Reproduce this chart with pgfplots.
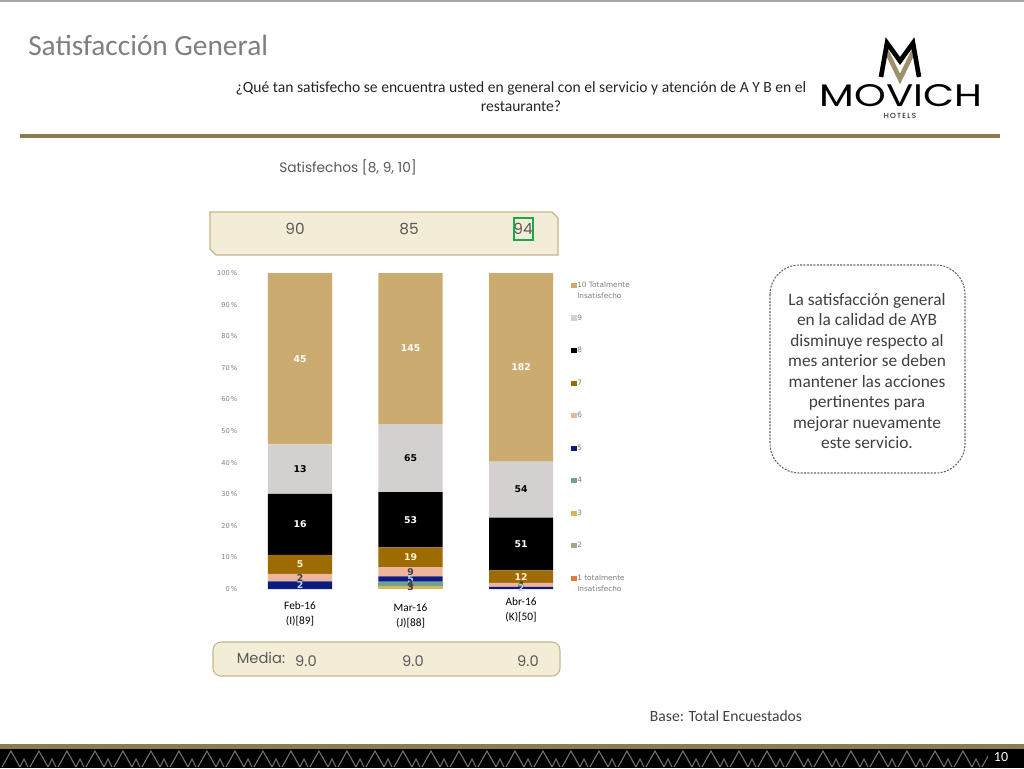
\documentclass[border=0pt]{standalone}
\usepackage{pgfplots}
\pgfplotsset{compat=1.18}
\usepackage{pgfplotstable}
\usepackage{fontspec}
\setmainfont{Carlito}
\newfontfamily\gothic{Poppins}
\newfontfamily\dejavu{DejaVu Sans}

\definecolor{c10}{HTML}{CBAB70}
\definecolor{c9}{HTML}{D5D0D0}
\definecolor{c8}{HTML}{000000}
\definecolor{c7}{HTML}{9E6B00}
\definecolor{c6}{HTML}{EDB59C}
\definecolor{c5}{HTML}{0D1A80}
\definecolor{c4}{HTML}{6FA391}
\definecolor{c3}{HTML}{D9B654}
\definecolor{c2}{HTML}{A7A68A}
\definecolor{c1}{HTML}{E27A3F}
\definecolor{cream}{HTML}{F3EDD8}
\definecolor{creamline}{HTML}{C2B68C}
\definecolor{goldline}{HTML}{8C7C51}
\definecolor{txtgray}{HTML}{7F7F7F}
\definecolor{darktxt}{HTML}{404040}
\definecolor{labcream}{HTML}{FFF5D6}
\definecolor{lablight}{HTML}{BDD7EE}
\definecolor{boxgreen}{HTML}{1AA84A}

% percentages (p) and counts (n) per rating, one row per month
\pgfplotstableread{
x p10 n10 p9 n9 p8 n8 p7 n7 p6 n6 p5 n5 p4 n4 p3 n3 p2 n2 p1 n1
0 54.22 45 15.66 13 19.28 16 6.02 5 2.41 2 2.41 2 0 0 0 0 0 0 0 0
1 47.85 145 21.45 65 17.49 53 6.27 19 2.97 9 1.65 5 1.32 4 0.99 3 0 0 0 0
2 59.67 182 17.70 54 16.72 51 3.93 12 1.31 4 0.66 2 0 0 0 0 0 0 0 0
}\satis

\begin{document}
\begin{tikzpicture}
\begin{scope}[x=0.75pt,y=-0.75pt]
\useasboundingbox (0,0) rectangle (1024,768);
\fill[white] (0,0) rectangle (1024,768);
\draw[gray!70, line width=1pt] (0,1) -- (1024,1);

% header
\node[anchor=base west, text=txtgray, font=\fontsize{22}{26}\selectfont, inner sep=0] at (28,55) {Satisfacción General};
\node[align=center, text=black!85, font=\fontsize{11.7}{14.25}\selectfont] at (521,97)
  {¿Qué tan satisfecho se encuentra usted en general con el servicio y atención de A Y B en el\\restaurante?};

% logo
\draw[goldline!85, line width=3.5pt, line join=miter] (886,50) -- (900,79) -- (914,50);
\draw[black, line width=3.5pt, line join=miter] (881,77) -- (887,43) -- (900,61) -- (913,43) -- (919,77);
\node[inner sep=0] at (901,96) {\resizebox{122pt}{16.5pt}{\gothic MOVICH}};
\node[inner sep=0, font=\gothic\fontsize{5.5}{6}\selectfont] at (900,116) {H\,O\,T\,E\,L\,S};

\draw[goldline, line width=3pt] (20,136) -- (1000,136);

% summary boxes
\node[text=black!65, font=\gothic\fontsize{10.3}{12}\selectfont] at (348,167) {Satisfechos [8, 9, 10]};
\filldraw[fill=cream, draw=creamline, line width=0.8pt]
  (210,212) -- (552,212) -- (558,218) -- (558,255) -- (216,255) -- (210,249) -- cycle;
\foreach \v/\px in {90/295, 85/409, 94/523}
  \node[text=black!65, font=\gothic\fontsize{11.5}{13}\selectfont] at (\px,229) {\v};
\draw[boxgreen, line width=1.5pt] (514,218) rectangle (533,240);

\filldraw[fill=cream, draw=creamline, line width=0.8pt, rounded corners=6] (213,642) rectangle (560,676);
\node[text=black!65, font=\gothic\fontsize{11}{13}\selectfont] at (261,658) {Media:};
\foreach \px in {306, 413, 528}
  \node[text=black!65, font=\gothic\fontsize{11}{13}\selectfont] at (\px,661) {9.0};

% comment box
\draw[black!60, dash pattern=on 1.5pt off 1pt, line width=0.8pt, rounded corners=22] (770,265) rectangle (965,473);
\node[align=center, text=darktxt, font=\fontsize{13}{15.4}\selectfont] at (867,371)
  {La satisfacción general\\en la calidad de AYB\\disminuye respecto al\\mes anterior se deben\\mantener las acciones\\pertinentes para\\mejorar nuevamente\\este servicio.};

\node[text=darktxt, font=\fontsize{11.7}{13}\selectfont] at (726,716) {Base: Total Encuestados};

% footer band
\fill[goldline] (0,744) rectangle (1024,749);
\fill[black] (0,749) rectangle (1024,768);
\foreach \i in {0,...,36} {
  \draw[black!55, line width=0.8pt] ({\i*28+2},767) -- ({\i*28+11},751) -- ({\i*28+20},767);
  \draw[black!55, line width=0.8pt] ({\i*28+20},767) -- ({\i*28+24},759) -- ({\i*28+28},767);
}
\fill[black] (988,750) rectangle (1024,768);
\node[text=white, font=\fontsize{10.5}{12}\selectfont] at (1001,757) {10};
\end{scope}

\begin{axis}[
  at={(181.5pt,-441.75pt)}, anchor=south west,
  scale only axis, width=238.3pt, height=237pt,
  ybar stacked, bar width=0.58,
  xmin=-0.525, xmax=2.35, ymin=0, ymax=100,
  axis line style={draw=none}, major tick length=0pt,
  ytick={0,10,...,100},
  /pgf/number format/assume math mode=true,
  yticklabel={\pgfmathprintnumber{\tick}\,\%},
  yticklabel style={font=\dejavu\fontsize{5}{6}\selectfont, text=txtgray},
  xtick={0,1,2},
  xticklabels={
    {\begin{tabular}[t]{@{}c@{}}Feb-16\\(I)[89]\end{tabular}},
    {\raisebox{-1.5pt}{\begin{tabular}[t]{@{}c@{}}Mar-16\\(J)[88]\end{tabular}}},
    {\raisebox{3pt}{\begin{tabular}[t]{@{}c@{}}Abr-16\\(K)[50]\end{tabular}}}},
  xticklabel style={anchor=base, yshift=-15.4pt, font=\fontsize{8.5}{11}\selectfont},
  point meta=explicit symbolic,
  nodes near coords,
  % stacked bars already put the label in the middle of each segment
  every node near coord/.append style={anchor=center, font=\dejavu\bfseries\fontsize{7}{8}\selectfont},
  seg/.style 2 args={fill=#1, draw=none, every node near coord/.append style={text=#2}},
  legend style={at={(1.036,0.975)}, anchor=north west, draw=none, fill=none, inner sep=0pt,
    font=\dejavu\fontsize{5.5}{6.5}\selectfont, text=txtgray, row sep=18pt,
    nodes={inner sep=0.6pt, text height=4.2pt, text depth=1pt}},
  legend cell align=left, reverse legend,
  legend image code/.code={\fill[#1] (0pt,-1.9pt) rectangle (3.8pt,1.9pt);},
]
\addplot[seg={c1}{darktxt}] table[x=x, y=p1, meta=n1] {\satis};
\addlegendentry{\vtop{\baselineskip=8.25pt\hbox{1 totalmente}\hbox{Insatisfecho}}}
\addplot[seg={c2}{darktxt}] table[x=x, y=p2, meta=n2] {\satis};
\addlegendentry{2}
\addplot[seg={c3}{darktxt}] table[x=x, y=p3, meta=n3] {\satis};
\addlegendentry{3}
\addplot[seg={c4}{darktxt}] table[x=x, y=p4, meta=n4] {\satis};
\addlegendentry{4}
\addplot[seg={c5}{lablight}] table[x=x, y=p5, meta=n5] {\satis};
\addlegendentry{5}
\addplot[seg={c6}{darktxt}] table[x=x, y=p6, meta=n6] {\satis};
\addlegendentry{6}
\addplot[seg={c7}{labcream}] table[x=x, y=p7, meta=n7] {\satis};
\addlegendentry{7}
\addplot[seg={c8}{white}] table[x=x, y=p8, meta=n8] {\satis};
\addlegendentry{8}
\addplot[seg={c9}{black}] table[x=x, y=p9, meta=n9] {\satis};
\addlegendentry{9}
\addplot[seg={c10}{white}] table[x=x, y=p10, meta=n10] {\satis};
\addlegendentry{\vtop{\baselineskip=8.25pt\hbox{10 Totalmente}\hbox{Insatisfecho}}}
\end{axis}
\end{tikzpicture}
\end{document}
